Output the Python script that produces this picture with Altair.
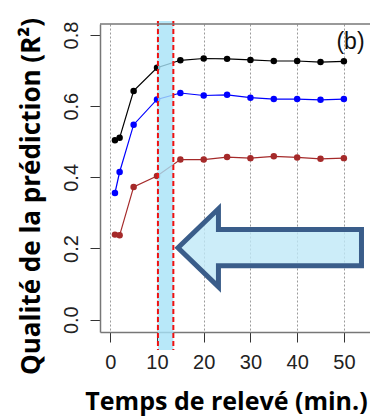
import altair as alt
import pandas as pd

# ---- data ----
times = [1, 2, 5, 10, 15, 20, 25, 30, 35, 40, 45, 50]
r2_black = [0.504, 0.511, 0.643, 0.708, 0.729, 0.734, 0.733, 0.730, 0.727, 0.727, 0.724, 0.726]
r2_blue = [0.356, 0.415, 0.548, 0.619, 0.637, 0.630, 0.632, 0.624, 0.620, 0.620, 0.618, 0.620]
r2_red = [0.239, 0.237, 0.373, 0.404, 0.450, 0.450, 0.457, 0.454, 0.459, 0.456, 0.452, 0.454]
series_names = ["noir", "bleu", "rouge"]
series_colors = ["#000000", "#0000ff", "#a52a2a"]
x_ticks = [0, 10, 20, 30, 40, 50]
y_ticks = [0.0, 0.2, 0.4, 0.6, 0.8]
band_edges = [10.2, 13.5]
arrow_pos = [34.13, 0.202]
panel_label = ["(b)"]

rows = []
for name, vals in zip(series_names, [r2_black, r2_blue, r2_red]):
    for t, v in zip(times, vals):
        rows.append({"t": t, "r2": v, "serie": name})
df = pd.DataFrame(rows)

W, H = 270, 308
xscale = alt.Scale(domain=[-2.2, -2.2 + W / 4.672], nice=False, zero=False)
yscale = alt.Scale(domain=[-0.0347, 0.831], nice=False, zero=False)

xaxis = alt.Axis(values=x_ticks, grid=True, gridDash=[2, 2], gridColor="#9a9a9a", gridWidth=1,
                 tickSize=10, tickColor="#333333", domainColor="#777777", domainWidth=1.5,
                 labelFont="Liberation Sans", labelFontSize=20, labelColor="#222222", labelPadding=10,
                 title="Temps de relevé (min.)", titleFont="Open Sans", titleFontWeight="bold",
                 titleFontSize=25, titleColor="#000000", titleX=126, titleY=77,
                 titleBaseline="alphabetic", titleAlign="center")
yaxis = alt.Axis(values=y_ticks, grid=False, format=".1f", labelAngle=270, labelAlign="center",
                 labelBaseline="alphabetic", labelPadding=13, tickSize=10, tickColor="#333333",
                 domainColor="#777777", domainWidth=1.5,
                 labelFont="Liberation Sans", labelFontSize=20, labelColor="#222222",
                 title="Qualité de la prédiction (R²)", titleFont="Open Sans", titleFontWeight="bold",
                 titleFontSize=26, titleColor="#000000", titleAngle=270, titleX=-69, titleY=172,
                 titleBaseline="middle", titleAlign="center")

xenc = alt.X("t:Q", scale=xscale, axis=xaxis)
yenc = alt.Y("r2:Q", scale=yscale, axis=yaxis)
color = alt.Color("serie:N", scale=alt.Scale(domain=series_names, range=series_colors), legend=None)

lines = alt.Chart(df).mark_line(strokeWidth=1.2).encode(x=xenc, y=yenc, color=color, detail="serie:N")
points = alt.Chart(df).mark_circle(size=42, opacity=1).encode(x=xenc, y=yenc, color=color)

top_border = alt.Chart(pd.DataFrame({"k": [0]})).mark_rule(color="#777777", strokeWidth=1.5).encode(
    x=alt.value(0), x2=alt.value(W + 20), y=alt.value(0))

band_df = pd.DataFrame({"t": [band_edges[0]], "t2": [band_edges[1]]})
band = alt.Chart(band_df).mark_rect(fill="#a6e2f7", opacity=0.8).encode(
    x=alt.X("t:Q", scale=xscale, axis=xaxis), x2="t2:Q", y=alt.value(-3), y2=alt.value(326))

edges_df = pd.DataFrame({"t": band_edges})
edges = alt.Chart(edges_df).mark_rule(color="#ee1111", strokeWidth=2, strokeDash=[5, 3]).encode(
    x=alt.X("t:Q", scale=xscale, axis=xaxis), y=alt.value(-3), y2=alt.value(326))

arrow_path = "M -1 0 L -0.559 -0.425 L -0.559 -0.2 L 1 -0.2 L 1 0.196 L -0.559 0.196 L -0.559 0.425 Z"
arrow_df = pd.DataFrame({"t": [arrow_pos[0]], "r2": [arrow_pos[1]]})
arrow = alt.Chart(arrow_df).mark_point(shape=arrow_path, size=33672, filled=True,
                                       fill="#bfe9f7", fillOpacity=0.8, stroke="#3a5d8a",
                                       strokeWidth=5, strokeOpacity=1, opacity=1).encode(x=xenc, y=yenc)

label = alt.Chart(pd.DataFrame({"lab": panel_label})).mark_text(
    font="Liberation Sans", fontSize=23, color="#111111", align="center", baseline="middle").encode(
    text="lab:N", x=alt.value(250.5), y=alt.value(17.5))

chart = alt.layer(lines, points, band, edges, top_border, arrow, label).properties(
    width=W, height=H,
    autosize=alt.AutoSizeParams(type="none"),
    padding={"left": 92, "top": 16, "right": 0, "bottom": 87},
).configure_view(stroke=None)

chart.save("out.html", embed_options={"renderer": "svg", "actions": False})
